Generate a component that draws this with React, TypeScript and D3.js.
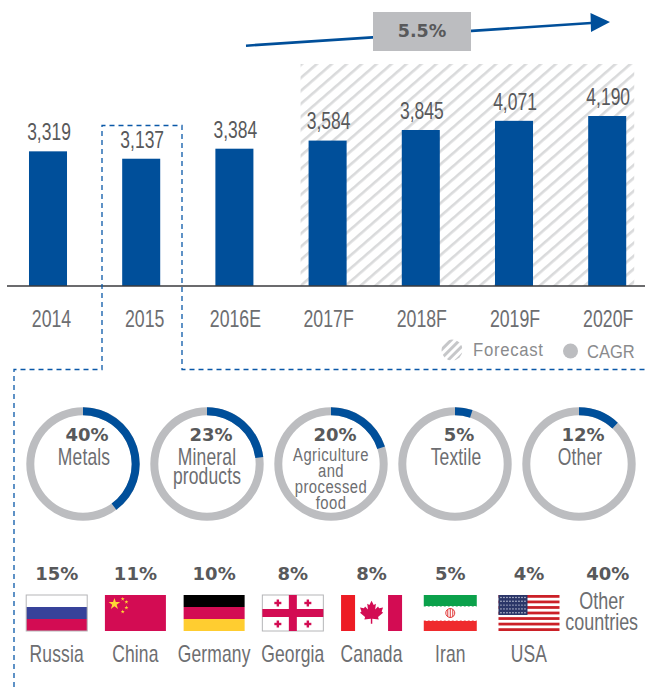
import React from "react";
import * as d3 from "d3";

const years = ["2014", "2015", "2016E", "2017F", "2018F", "2019F", "2020F"];
const totals = [3319, 3137, 3384, 3584, 3845, 4071, 4190];
const forecastYears = ["2017F", "2018F", "2019F", "2020F"];
const cagrLabel = "5.5%";
const sectorNames = [["Metals"], ["Mineral", "products"], ["Agriculture", "and", "processed", "food"], ["Textile"], ["Other"]];
const sectorShares = [40, 23, 20, 5, 12];
const countries = ["Russia", "China", "Germany", "Georgia", "Canada", "Iran", "USA", "Other countries"];
const countryShares = [15, 11, 10, 8, 8, 5, 4, 40];

const W = 645, H = 687;
const BLUE = "#004f9a", RING = "#bcbdc0", TXT = "#6d6e71", DARK = "#58595b";
const SANS = "'Liberation Sans', sans-serif";
const WIDE = "'DejaVu Sans', sans-serif";
const RED = "#d30c53";

const baseY = 286;
const x = d3.scaleBand<string>().domain(years).range([1.4, 653.8]).paddingInner(0.592).paddingOuter(0.296);
const y = d3.scaleLinear().domain([0, 4190]).range([baseY, 116]);
const ringX = d3.scalePoint<number>().domain(d3.range(sectorNames.length)).range([83, 579]);
const flagX = d3.scalePoint<string>().domain(countries).range([56.7, 607.7]);
const arc = d3.arc();
const ringOuter = 56.7, ringInner = 48.7, ringCy = 464;
const fmt = d3.format(",");
const star = (s: number) => d3.symbol(d3.symbolStar, s)() as string;

const MAPLE = "M0,-17 L3,-11 L6,-13 L5,-5 L9,-9 L10.5,-6.5 L16,-7.5 L14,-2 L16,-0.5 L9,5.5 L10,9 L1,8 L1,15 L-1,15 L-1,8 L-10,9 L-9,5.5 L-16,-0.5 L-14,-2 L-16,-7.5 L-10.5,-6.5 L-9,-9 L-5,-5 L-6,-13 L-3,-11 Z";

function N({ x, y, size = 23, sx = 0.76, ls = 0, fill = TXT, anchor = "middle", children }: any) {
  return (
    <text transform={`translate(${x},${y}) scale(${sx},1)`} textAnchor={anchor} dominantBaseline="central" fontFamily={SANS} fontSize={size} letterSpacing={ls} fill={fill}>
      {children}
    </text>
  );
}

function Flag({ name }: { name: string }) {
  const w = 61, h = 36, l = -w / 2, t = 0;
  if (name === "Russia")
    return (
      <g>
        <rect x={l} y={t} width={w} height={h / 3} fill="#fff" />
        <rect x={l} y={t + h / 3} width={w} height={h / 3} fill="#37429a" />
        <rect x={l} y={t + (2 * h) / 3} width={w} height={h / 3} fill={RED} />
        <rect x={l} y={t} width={w} height={h} fill="none" stroke="#b5b6b8" strokeWidth={1} />
      </g>
    );
  if (name === "China") {
    const small: [number, number][] = [[-12.7, 4], [-9, 7], [-9, 12.7], [-12.7, 16.7]];
    return (
      <g>
        <rect x={l} y={t} width={w} height={h} fill={RED} />
        <path d={star(42)} transform="translate(-21,9)" fill="#fdd835" />
        {small.map(([a, b], i) => (
          <path key={i} d={star(5)} transform={`translate(${a},${b})`} fill="#fdd835" />
        ))}
      </g>
    );
  }
  if (name === "Germany")
    return (
      <g>
        <rect x={l} y={t} width={w} height={h / 3} fill="#000" />
        <rect x={l} y={t + h / 3} width={w} height={h / 3} fill={RED} />
        <rect x={l} y={t + (2 * h) / 3} width={w} height={h / 3} fill="#ffcd30" />
      </g>
    );
  if (name === "Georgia") {
    const pts: [number, number][] = [[-15, 8], [15, 8], [-15, 29], [15, 29]];
    return (
      <g>
        <rect x={l} y={t} width={w} height={h} fill="#fff" stroke="#b5b6b8" />
        <rect x={-4} y={t} width={8} height={h} fill={RED} />
        <rect x={l} y={h / 2 - 4} width={w} height={8} fill={RED} />
        {pts.map(([a, b], i) => (
          <g key={i} fill={RED}>
            <rect x={a - 3.5} y={b - 1.2} width={7} height={2.4} />
            <rect x={a - 1.2} y={b - 3.5} width={2.4} height={7} />
          </g>
        ))}
      </g>
    );
  }
  if (name === "Canada")
    return (
      <g>
        <rect x={l} y={t} width={14} height={h} fill="#ed1c24" />
        <rect x={w / 2 - 14} y={t} width={14} height={h} fill={RED} />
        <path d={MAPLE} transform="translate(0,18) scale(0.72)" fill={RED} />
      </g>
    );
  if (name === "Iran") {
    const iw = 53;
    return (
      <g>
        <rect x={-iw / 2} y={t} width={iw} height={h} fill="#fff" />
        <rect x={-iw / 2} y={t} width={iw} height={11} fill="#0ba14b" />
        <rect x={-iw / 2} y={t + 26} width={iw} height={10} fill="#ef2b2d" />
        <line x1={-iw / 2} x2={iw / 2} y1={11.5} y2={11.5} stroke="#8fcea8" strokeDasharray="2 2" />
        <line x1={-iw / 2} x2={iw / 2} y1={25.5} y2={25.5} stroke="#f5a3a3" strokeDasharray="2 2" />
        <g fill="none" stroke="#e23b3b" strokeWidth={1}>
          <ellipse cx={0} cy={18} rx={4.5} ry={4.5} />
          <line x1={0} x2={0} y1={13} y2={23} />
          <line x1={-2.5} x2={-2.5} y1={14} y2={22} />
          <line x1={2.5} x2={2.5} y1={14} y2={22} />
        </g>
      </g>
    );
  }
  if (name === "USA") {
    const sh = h / 13;
    const cols = d3.range(9), rows = d3.range(5);
    return (
      <g>
        <rect x={l} y={t} width={w} height={h} fill="#fff" />
        {d3.range(0, 13, 2).map((i) => (
          <rect key={i} x={l} y={t + i * sh} width={w} height={sh} fill="#cb2027" />
        ))}
        <rect x={l} y={t} width={29} height={20} fill="#2b3668" />
        {rows.map((r) =>
          cols.map((c) => (
            <circle key={`${r}-${c}`} cx={l + 2.5 + c * 3} cy={t + 2.5 + r * 3.8} r={0.7} fill="#dfe2ee" />
          ))
        )}
      </g>
    );
  }
  return null;
}

export default function App() {
  const hatchL = (x(forecastYears[0]) as number) - 8;
  const hatchR = (x(forecastYears[forecastYears.length - 1]) as number) + x.bandwidth() + 8;
  return (
    <svg width={W} height={H} style={{ position: "absolute", left: 0, top: 0, background: "#fff" }}>
      <defs>
        <pattern id="hatch" width={9.8} height={9.8} patternUnits="userSpaceOnUse" patternTransform="rotate(49)">
          <rect width={9.8} height={9.8} fill="#fff" />
          <rect x={0} width={2.6} height={9.8} fill="#d9dadb" />
        </pattern>
        <pattern id="hatchSmall" width={6} height={6} patternUnits="userSpaceOnUse" patternTransform="rotate(45)">
          <rect width={6} height={6} fill="#fff" />
          <rect x={0} width={3} height={6} fill="#c6c7c9" />
        </pattern>
        <clipPath id="lg"><circle cx={452} cy={350} r={10.5} /></clipPath>
      </defs>

      {/* CAGR arrow */}
      <line x1={246} y1={45.7} x2={595} y2={22.8} stroke={BLUE} strokeWidth={2.6} />
      <path d="M590.5,13 L610,22 L591,32 Z" fill={BLUE} />
      <rect x={373} y={12} width={98} height={39} fill={RING} />
      <text x={422} y={31} textAnchor="middle" dominantBaseline="central" fontFamily={WIDE} fontWeight={700} fontSize={17.5} fill={DARK}>
        {cagrLabel}
      </text>

      {/* Forecast band */}
      <rect x={hatchL} y={64} width={hatchR - hatchL} height={baseY - 64} fill="url(#hatch)" />

      {/* Bars */}
      {years.map((yr, i) => {
        const cx = (x(yr) as number) + x.bandwidth() / 2;
        return (
          <g key={yr}>
            <rect x={x(yr)} y={y(totals[i])} width={x.bandwidth()} height={baseY - y(totals[i])} fill={BLUE} />
            <N x={cx + 1} y={y(totals[i]) - 19} fill={DARK}>{fmt(totals[i])}</N>
            <N x={cx + (i < 2 ? 3.5 : 1)} y={318.5} sx={0.77}>{yr}</N>
          </g>
        );
      })}
      <line x1={7} x2={W} y1={286} y2={286} stroke="#3a3a3c" strokeWidth={1.4} />

      {/* Legend */}
      <g clipPath="url(#lg)">
        <rect x={440} y={338} width={24} height={24} fill="url(#hatchSmall)" />
      </g>
      <N x={473} y={350} size={19} sx={0.88} ls={0.8} anchor="start" fill="#8a8b8d">Forecast</N>
      <circle cx={570.5} cy={351} r={7.5} fill={RING} />
      <N x={587} y={352} size={19} sx={0.87} anchor="start" fill="#8a8b8d">CAGR</N>

      {/* Callout */}
      <path d={`M14,687 V369.5 H102 V125.5 H182 V369.5 H${W}`} fill="none" stroke="#0a58a8" strokeWidth={1.3} strokeDasharray="5 4" />

      {/* Sector rings */}
      {sectorNames.map((lines, i) => {
        const cx = ringX(i) as number;
        const long = lines.length > 2;
        return (
          <g key={i}>
            <path d={arc({ innerRadius: ringInner, outerRadius: ringOuter, startAngle: 0, endAngle: 2 * Math.PI }) as string} transform={`translate(${cx},${ringCy})`} fill={RING} />
            <path d={arc({ innerRadius: ringInner, outerRadius: ringOuter, startAngle: 0, endAngle: (sectorShares[i] / 100) * 2 * Math.PI }) as string} transform={`translate(${cx},${ringCy})`} fill={BLUE} />
            <text x={cx + 4} y={434.5} textAnchor="middle" dominantBaseline="central" fontFamily={WIDE} fontWeight={700} fontSize={18} fill={DARK}>
              {sectorShares[i]}%
            </text>
            {lines.map((ln, j) => (
              <N key={j} x={cx + (lines.length === 1 ? 1 : 0)} y={long ? 455 + j * 16 : 456.7 + j * 19.5} size={long ? 19 : 23} sx={long ? 0.78 : 0.76} ls={long ? 0.6 : 0.2}>
                {ln}
              </N>
            ))}
          </g>
        );
      })}

      {/* Country shares */}
      {countries.map((c, i) => {
        const cx = flagX(c) as number;
        const other = i === countries.length - 1;
        return (
          <g key={c}>
            <text x={cx} y={573.5} textAnchor="middle" dominantBaseline="central" fontFamily={WIDE} fontWeight={700} fontSize={18} fill={DARK}>
              {countryShares[i]}%
            </text>
            {other ? (
              c.split(" ").map((ln, j) => (
                <N key={j} x={cx - 6} y={601 + j * 20.7} sx={0.78}>{ln}</N>
              ))
            ) : (
              <>
                <g transform={`translate(${cx},595)`}>
                  <Flag name={c} />
                </g>
                <N x={cx} y={654} ls={0.2}>{c}</N>
              </>
            )}
          </g>
        );
      })}
    </svg>
  );
}
